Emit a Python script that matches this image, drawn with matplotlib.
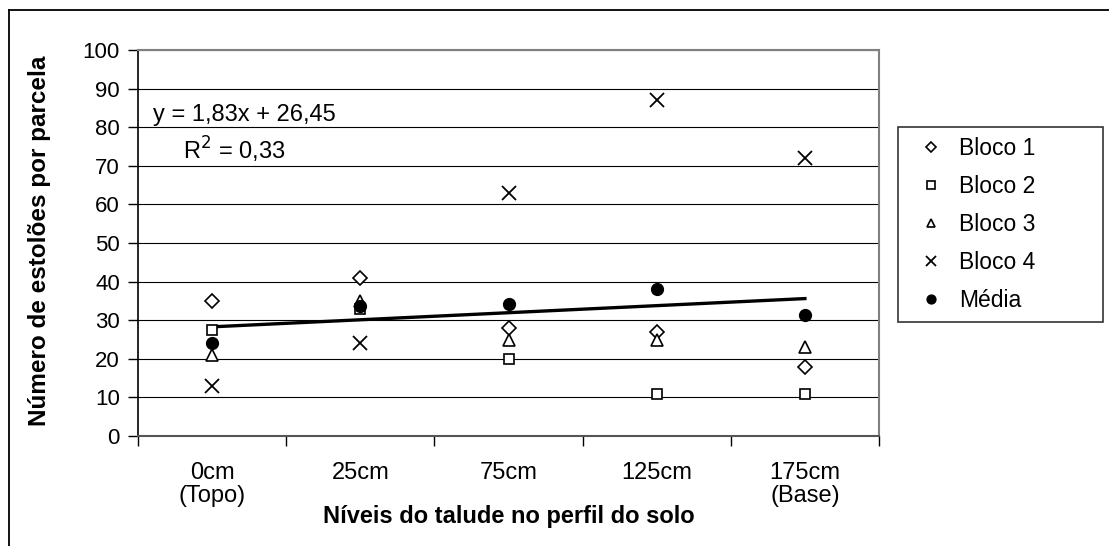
import matplotlib
matplotlib.use("Agg")
import matplotlib.pyplot as plt
from matplotlib.lines import Line2D

plt.rcParams['font.family'] = ['Liberation Sans', 'DejaVu Sans']

# Soil-profile levels and stolon counts per plot
niveis = ["0cm\n(Topo)", "25cm", "75cm", "125cm", "175cm\n(Base)"]
bloco1 = [35, 41, 28, 27, 18]
bloco2 = [27.5, 33, 20, 11, 11]
bloco3 = [21, 35, 25, 25, 23]
bloco4 = [13, 24, 63, 87, 72]
media = [24.1, 33.8, 34.2, 38.1, 31.3]

# Linear trend of the mean
slope, intercept = 1.83, 26.45
eq_text = "y = 1,83x + 26,45"
r2_text = "R$^{2}$ = 0,33"

W, H = 1109, 546
fig = plt.figure(figsize=(W / 100, H / 100), dpi=100)

# Outer chart frame
fig.add_artist(Line2D([9 / W, 9 / W], [0, 1 - 10 / H], color='black', lw=1.3,
                      transform=fig.transFigure))
fig.add_artist(Line2D([9 / W, 1], [1 - 10 / H, 1 - 10 / H], color='black', lw=1.3,
                      transform=fig.transFigure))

ax = fig.add_axes([138 / W, 1 - 436 / H, (879 - 138) / W, (436 - 50) / H])

x = list(range(len(niveis)))
mk = dict(linestyle='none', mfc='white', mec='black', mew=1.2)
ax.plot(x, bloco1, marker='D', ms=7, label='Bloco 1', zorder=4, **mk)
ax.plot(x, bloco2, marker='s', ms=7.5, label='Bloco 2', zorder=4, **mk)
ax.plot(x, bloco3, marker='^', ms=8.5, label='Bloco 3', zorder=4, **mk)
ax.plot(x, bloco4, marker='x', ms=9.5, linestyle='none', color='black', mew=1.3,
        label='Bloco 4', zorder=4)
ax.plot(x, media, marker='o', ms=8.5, linestyle='none', color='black',
        label='Média', zorder=5)

trend_y = [slope * (i + 1) + intercept for i in x]
ax.plot([x[0], x[-1]], [trend_y[0], trend_y[-1]], color='black', lw=2.4, zorder=3)

ax.set_xlim(-0.5, len(niveis) - 0.5)
ax.set_ylim(0, 100)
ax.set_yticks(range(0, 101, 10))
ax.yaxis.grid(True, color='black', lw=0.8)
ax.set_axisbelow(True)

ax.set_xticks([i - 0.5 for i in range(len(niveis) + 1)])
ax.set_xticklabels([])
ax.set_xticks(x, minor=True)
ax.set_xticklabels(niveis, minor=True, fontsize=17, va='top', linespacing=1.05)
ax.tick_params(axis='x', which='minor', length=0, pad=19)
ax.tick_params(axis='x', which='major', length=7, width=1, direction='out')
ax.tick_params(axis='y', length=7, width=1, direction='out', labelsize=16, pad=6)

for s in ('top', 'right'):
    ax.spines[s].set_color('#808080')
    ax.spines[s].set_linewidth(1.5)
ax.spines['left'].set_color('black')
ax.spines['left'].set_linewidth(1.2)
ax.spines['bottom'].set_color('#555555')
ax.spines['bottom'].set_linewidth(1.5)

ax.set_ylabel("Número de estolões por parcela", fontsize=17.5, fontweight='bold')
ax.yaxis.set_label_coords((40 - 138) / 741, 0.505)
ax.yaxis.label.set_va('center')
ax.set_xlabel("Níveis do talude no perfil do solo", fontsize=17, fontweight='bold')
ax.xaxis.set_label_coords(0.5, (436 - 517) / 386)
ax.xaxis.label.set_va('center')

ax.text(153 / W, 1 - 115 / H, eq_text, transform=fig.transFigure, fontsize=17,
        va='center', ha='left')
ax.text(183 / W, 1 - 150 / H, r2_text, transform=fig.transFigure, fontsize=17,
        va='center', ha='left')

leg = fig.legend(loc='upper left', bbox_to_anchor=(898 / W, 1 - 326 / H, 205 / W, 199 / H),
                 mode='expand', frameon=True, fancybox=False, fontsize=16.5,
                 borderaxespad=0, handletextpad=0.25, labelspacing=0.66,
                 handlelength=2.0, borderpad=0.42, markerscale=0.75)
leg.get_frame().set_edgecolor('black')
leg.get_frame().set_linewidth(1.2)

fig.savefig("out.png", dpi=100)
